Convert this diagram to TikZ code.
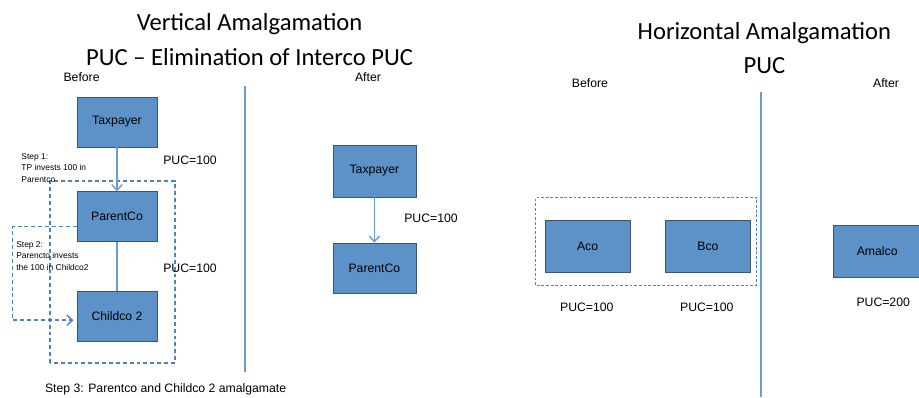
\documentclass[tikz,border=0pt]{standalone}
\usepackage{fontspec}
\setmainfont{Liberation Sans}
\newfontfamily\titlefont{Carlito}
\usetikzlibrary{arrows.meta,positioning}
\definecolor{boxfill}{RGB}{92,146,199}
\definecolor{boxline}{RGB}{62,84,110}
\definecolor{linkblue}{RGB}{106,155,210}
\definecolor{dashblue}{RGB}{79,129,189}
\begin{document}
\begin{tikzpicture}[>={Straight Barb[length=1.4mm,width=2.6mm]}, font=\fontsize{8.7}{10}\selectfont,
		co/.style={draw=boxline, fill=boxfill, line width=0.5pt, minimum width=2cm, minimum height=1.25cm, inner sep=0pt},
		heading/.style={font=\titlefont\fontsize{17.5}{24.8}\selectfont, align=center},
		steptext/.style={align=left, anchor=north west, inner sep=0pt, font=\fontsize{6}{8.2}\selectfont},
		link/.style={draw=linkblue, line width=1pt},
		group/.style={draw=dashblue, line width=1pt, dash pattern=on 2.8pt off 2.1pt},
		pair/.style={draw=dashblue, line width=0.7pt, dash pattern=on 2pt off 1.3pt}]
	\useasboundingbox (0,0) rectangle (22.975,9.925);
	% vertical amalgamation
	\node[heading] (T1) at (6.24,8.94) {Vertical Amalgamation\\PUC – Elimination of Interco PUC};
	\node (Bf1) at (2.04,8.0) {Before};
	\node (Af1) at (9.2,8.0) {After};
	\draw[link] (6.125,7.775) -- (6.125,0.625);
	\draw[group] (1.25,0.85) rectangle (4.375,5.4);
	\node[co] (TP1) at (2.925,6.875) {Taxpayer};
	\node[co] (PC1) at (2.925,4.51) {ParentCo};
	\node[co] (CC1) at (2.925,2.01) {Childco 2};
	\draw[link,->] (TP1) -- (PC1);
	\draw[link] (PC1) -- (CC1);
	\draw[group,->,shorten >=0.08cm] ([yshift=-0.25cm]PC1.west) -- ++(-1.6,0) |- ([yshift=-0.09cm]CC1.west);
	\node[steptext] (S1) at (0.53,6.1) {Step 1:\\TP invests 100 in\\Parentco};
	\node[steptext] (S2) at (0.4,3.9) {Step 2:\\Parencto invests\\the 100 in Childco2};
	\node (P1) at (4.75,5.925) {PUC=100};
	\node (P2) at (4.75,3.225) {PUC=100};
	\node (S3) at (4.14,0.2) {Step 3: Parentco and Childco 2 amalgamate};
	\node[co, minimum width=2.075cm, minimum height=1.3cm] (TP2) at (9.36,5.65) {Taxpayer};
	\node[co, minimum width=2.075cm] (PC2) at (9.36,3.225) {ParentCo};
	\draw[link,->] (TP2) -- (PC2);
	\node (P3) at (10.775,4.475) {PUC=100};
	% horizontal amalgamation
	\node[heading] (T2) at (19.11,8.725) {Horizontal Amalgamation\\PUC};
	\node (Bf2) at (14.75,7.85) {Before};
	\node (Af2) at (22.15,7.85) {After};
	\draw[link] (19.025,7.625) -- (19.025,0);
	\draw[pair] (13.39,2.8) rectangle (18.915,4.98);
	\node[co, minimum width=2.125cm, minimum height=1.3cm] (A) at (14.69,3.775) {Aco};
	\node[co, minimum width=2.125cm, minimum height=1.3cm] (B) at (17.7,3.775) {Bco};
	\node (PA) at (14.67,2.25) {PUC=100};
	\node (PB) at (17.67,2.25) {PUC=100};
	\node[co, minimum width=2.2cm, minimum height=1.3cm] (AM) at (21.93,3.65) {Amalco};
	\node (PM) at (22.08,2.38) {PUC=200};
\end{tikzpicture}
\end{document}
